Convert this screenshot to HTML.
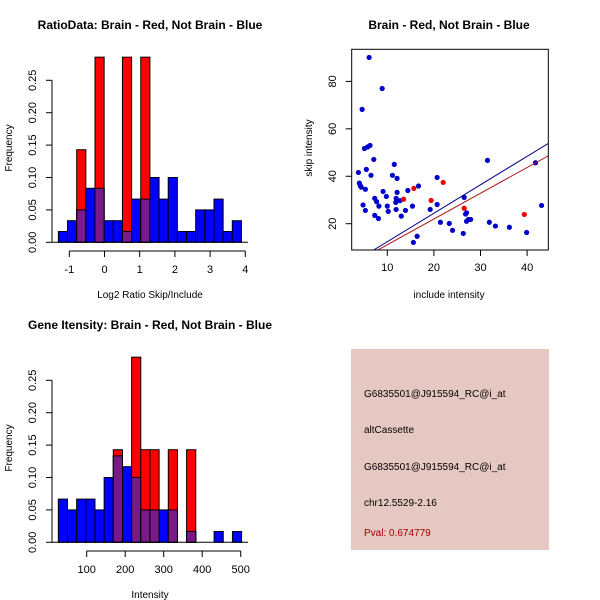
<!DOCTYPE html>
<html><head><meta charset="utf-8"><style>
body{margin:0;background:#fff}
svg{display:block;font-family:"Liberation Sans",sans-serif}
</style></head><body>
<svg id="c" width="600" height="600" viewBox="0 0 600 600">
<rect width="600" height="600" fill="#fff"/>
<g id="p1"></g>
<g id="p2"></g>
<g id="p3"></g>
<g>
<rect x="351" y="349" width="198" height="201" fill="#e6c8c2"/>
<g font-size="10" fill="#000">
<text x="364" y="397">G6835501@J915594_RC@i_at</text>
<text x="364" y="433">altCassette</text>
<text x="364" y="470">G6835501@J915594_RC@i_at</text>
<text x="364" y="506">chr12.5529-2.16</text>
<text x="364" y="536" fill="#a00000">Pval: 0.674779</text>
</g></g>
</svg>
<script>
// Histogram 1 data (counts: blue /60, red /7)
const h1Blue=[1,2,3,5,5,2,2,1,4,4,6,4,6,1,1,3,3,4,1,2];
const h1Red=[0,0,1,0,2,0,0,2,0,2,0,0,0,0,0,0,0,0,0,0];
const h1Start=-1.31, h1Width=0.26;
const h1XTicks=[-1,0,1,2,3,4];
// Histogram 3 data
const h3Blue=[4,3,4,4,3,6,8,7,6,3,3,3,3,0,1,0,0,1,0,1];
const h3Red=[0,0,0,0,0,0,1,0,2,1,1,0,1,0,1,0,0,0,0,0];
const h3Start=26.3, h3Width=23.8;
const h3XTicks=[100,200,300,400,500];
const yTicks=[0,0.05,0.10,0.15,0.20,0.25];
const yTickLabels=["0.00","0.05","0.10","0.15","0.20","0.25"];
// Scatter data
const blueX=[6.1,8.9,4.6,5.1,5.8,6.3,7.1,3.8,5.5,6.5,4.0,4.2,4.4,5.3,9.1,9.8,7.3,7.7,8.2,4.8,5.3,7.3,8.1,10,10.2,11.1,11.5,12.1,12.1,11.9,11.8,12.7,11.9,13.0,13.9,14.4,15.4,16.7,15.6,16.4,19.2,20.7,20.7,21.4,23.3,24.0,26.3,26.5,26.8,27.0,27.0,27.4,27.9,31.5,31.9,33.2,36.2,39.9,41.8,43.1];
const blueY=[90.1,77.0,68.2,51.7,52.4,53.0,47.1,41.6,42.9,40.4,37.1,36.0,35.4,34.5,33.6,31.5,30.7,29.3,27.4,27.9,25.6,23.5,22.2,27.4,25.2,40.4,45.0,39.1,33.2,30.7,29.0,29.7,26.0,23.2,25.6,34.0,27.4,35.9,12.1,14.7,26.0,39.5,28.1,20.6,20.1,17.2,15.9,31.1,24.1,24.6,21.0,21.8,21.8,46.7,20.6,19.0,18.5,16.3,45.7,27.7];
const redX=[13.5,15.7,19.4,22.0,26.5,39.4];
const redY=[30.3,34.9,29.8,37.4,26.5,23.9];
const blueFit=[1.2,0.4], redFit=[1.086,0.26];
const sxTicks=[10,20,30,40], syTicks=[20,40,60,80];

const NS="http://www.w3.org/2000/svg";
function mk(parent,tag,attrs){const e=document.createElementNS(NS,tag);for(const k in attrs)e.setAttribute(k,attrs[k]);parent.appendChild(e);return e;}
function txt(parent,x,y,s,extra){const t=mk(parent,'text',Object.assign({x:x,y:y,'text-anchor':'middle','font-size':11},extra||{}));t.textContent=s;return t;}

function hist(g,oy,blue,red,start,w,xt,x0px,x1px,x0v,x1v,title,xlab){
  const X=v=>x0px+(v-x0v)*(x1px-x0px)/(x1v-x0v);
  const base=oy+242.3, Y=f=>base-f*648;
  const t=txt(g,150,oy+29,title,{'font-weight':'bold','font-size':12});
  
  for(let i=0;i<blue.length;i++){
    const xa=X(start+i*w), xb=X(start+(i+1)*w);
    const b=blue[i]/60, r=red[i]/7;
    if(b>0){const e=mk(g,'rect',{x:xa,y:Y(b),width:xb-xa,height:base-Y(b),fill:'#0000ff',stroke:'#000','stroke-width':1});
      }
    if(r>0){const e=mk(g,'rect',{x:xa,y:Y(r),width:xb-xa,height:base-Y(r),fill:'#ff0000',stroke:'#000','stroke-width':1});
      
      const m=Math.min(b,r);
      if(m>0){const p=mk(g,'rect',{x:xa,y:Y(m),width:xb-xa,height:base-Y(m),fill:'#7a1a8a',stroke:'#000','stroke-width':1});
        }
      if(b>m){const e2=mk(g,'rect',{x:xa,y:Y(b),width:xb-xa,height:base-Y(b),fill:'none',stroke:'#000','stroke-width':1});}
    }
  }
  mk(g,'line',{x1:51.7,x2:248,y1:base,y2:base,stroke:'#000'});
  // y axis
  mk(g,'line',{x1:52,x2:52,y1:Y(0),y2:Y(0.25),stroke:'#000'});
  yTicks.forEach((v,i)=>{mk(g,'line',{x1:46,x2:52,y1:Y(v),y2:Y(v),stroke:'#000'});
    const l=txt(g,0,0,yTickLabels[i],{transform:`translate(36,${Y(v)}) rotate(-90)`,'font-size':11});
    });
  const yl=txt(g,0,0,'Frequency',{transform:`translate(12,${oy+148}) rotate(-90)`,'font-size':10});
  
  // x axis
  const ay=oy+251;
  mk(g,'line',{x1:X(xt[0]),x2:X(xt[xt.length-1]),y1:ay,y2:ay,stroke:'#000'});
  xt.forEach(v=>{mk(g,'line',{x1:X(v),x2:X(v),y1:ay,y2:ay+6,stroke:'#000'});
    const l=txt(g,X(v),ay+22,String(v));});
  const xl=txt(g,150,oy+298,xlab,{'font-size':10});
  
}
hist(document.getElementById('p1'),0,h1Blue,h1Red,h1Start,h1Width,h1XTicks,69.3,245.3,-1,4,'RatioData: Brain - Red, Not Brain - Blue','Log2 Ratio Skip/Include');
hist(document.getElementById('p3'),300,h3Blue,h3Red,h3Start,h3Width,h3XTicks,86.7,240.7,100,500,'Gene Itensity: Brain - Red, Not Brain - Blue','Intensity');

// scatter
(function(){
  const g=document.getElementById('p2');
  const X=v=>387.3+(v-10)*4.66, Y=v=>223.7-(v-20)*2.3717;
  const L=351.7,R=548.3,T=49.3,B=250;
  const t=txt(g,449,29,'Brain - Red, Not Brain - Blue',{'font-weight':'bold','font-size':12});
  
  mk(g,'clipPath',{id:'sc'}).appendChild(document.createElementNS(NS,'rect'));
  const cr=g.querySelector('#sc rect');cr.setAttribute('x',L);cr.setAttribute('y',T);cr.setAttribute('width',R-L);cr.setAttribute('height',B-T);
  blueX.forEach((x,i)=>{const c=mk(g,'circle',{cx:X(x),cy:Y(blueY[i]),r:2.6,fill:'#0000cc'});
    });
  redX.forEach((x,i)=>{const c=mk(g,'circle',{cx:X(x),cy:Y(redY[i]),r:2.6,fill:'#ee0000'});
    });
  const xv0=0,xv1=50;
  const bl=mk(g,'line',{x1:X(xv0),y1:Y(blueFit[0]*xv0+blueFit[1]),x2:X(xv1),y2:Y(blueFit[0]*xv1+blueFit[1]),stroke:'#00008b','clip-path':'url(#sc)'});
  
  const rl=mk(g,'line',{x1:X(xv0),y1:Y(redFit[0]*xv0+redFit[1]),x2:X(xv1),y2:Y(redFit[0]*xv1+redFit[1]),stroke:'#b22222','clip-path':'url(#sc)'});
  
  mk(g,'rect',{x:L,y:T,width:R-L,height:B-T,fill:'none',stroke:'#000'});
  sxTicks.forEach(v=>{mk(g,'line',{x1:X(v),x2:X(v),y1:B,y2:B+6,stroke:'#000'});
    const l=txt(g,X(v),B+21,String(v));});
  syTicks.forEach(v=>{mk(g,'line',{x1:L-6,x2:L,y1:Y(v),y2:Y(v),stroke:'#000'});
    const l=txt(g,0,0,String(v),{transform:`translate(336,${Y(v)}) rotate(-90)`});
    });
  const xl=txt(g,449,298,'include intensity',{'font-size':10});
  
  const yl=txt(g,0,0,'skip intensity',{transform:'translate(312,148) rotate(-90)','font-size':10});
  
})();
</script>
</body></html>
